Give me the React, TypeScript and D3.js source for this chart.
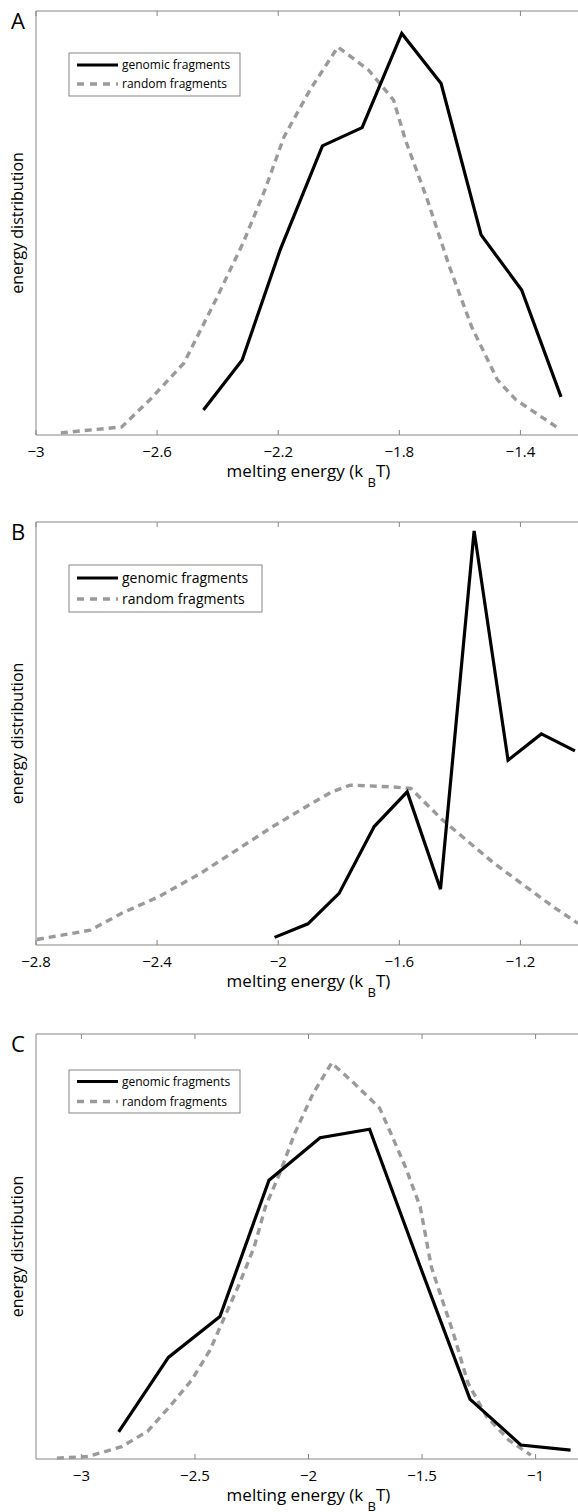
import React from "react";
import * as d3 from "d3";

// panel A
const ticksA = [-3, -2.6, -2.2, -1.8, -1.4];
const genomicXA = [-2.447, -2.319, -2.194, -2.054, -1.923, -1.792, -1.662, -1.53, -1.396, -1.266];
const genomicYA = [0.059, 0.177, 0.436, 0.682, 0.725, 0.947, 0.829, 0.472, 0.342, 0.09];
const randomXA = [-2.918, -2.717, -2.624, -2.511, -2.402, -2.316, -2.244, -2.181, -2.095, -2.003, -1.902, -1.819, -1.78, -1.707, -1.634, -1.561, -1.476, -1.415, -1.281];
const randomYA = [0.005, 0.019, 0.083, 0.17, 0.325, 0.453, 0.578, 0.703, 0.814, 0.915, 0.861, 0.79, 0.696, 0.554, 0.396, 0.255, 0.13, 0.083, 0.019];

// panel B
const ticksB = [-2.8, -2.4, -2, -1.6, -1.2];
const genomicXB = [-2.012, -1.902, -1.799, -1.683, -1.574, -1.464, -1.353, -1.241, -1.131, -1.02];
const genomicYB = [0.018, 0.05, 0.122, 0.28, 0.362, 0.132, 0.979, 0.437, 0.499, 0.459];
const randomXB = [-2.797, -2.621, -2.517, -2.395, -2.255, -2.128, -2.018, -1.908, -1.823, -1.762, -1.629, -1.562, -1.458, -1.287, -1.093, -1.01];
const randomYB = [0.013, 0.035, 0.075, 0.114, 0.17, 0.229, 0.28, 0.327, 0.362, 0.378, 0.374, 0.37, 0.296, 0.193, 0.091, 0.051];

// panel C
const ticksC = [-3, -2.5, -2, -1.5, -1];
const genomicXC = [-2.836, -2.617, -2.39, -2.174, -1.949, -1.731, -1.509, -1.289, -1.065, -0.846];
const genomicYC = [0.064, 0.239, 0.335, 0.656, 0.756, 0.776, 0.454, 0.141, 0.033, 0.021];
const randomXC = [-3.108, -2.969, -2.823, -2.709, -2.612, -2.514, -2.434, -2.369, -2.303, -2.239, -2.19, -2.126, -2.06, -1.979, -1.898, -1.801, -1.687, -1.638, -1.573, -1.508, -1.459, -1.411, -1.362, -1.298, -1.216, -1.119, -1.021];
const randomYC = [0.002, 0.006, 0.029, 0.065, 0.123, 0.186, 0.256, 0.335, 0.414, 0.499, 0.593, 0.673, 0.767, 0.861, 0.932, 0.885, 0.826, 0.767, 0.687, 0.593, 0.452, 0.374, 0.296, 0.179, 0.1, 0.045, 0.009];

const FONT = "'Open Sans', 'Noto Sans', sans-serif";
const FRAME = "#858585";
const GRAY = "#9a9a9a";

type PanelProps = {
    letter: string;
    top: number;
    bottom: number;
    domain: [number, number];
    ticks: number[];
    gx: number[];
    gy: number[];
    rx: number[];
    ry: number[];
    legend: { x: number; y: number; w: number; h: number; row: number; fs: number };
};

const fmt = (d: number) => String(d).replace("-", "\u2212");

function Panel({ letter, top, bottom, domain, ticks, gx, gy, rx, ry, legend }: PanelProps) {
    const left = 36;
    const right = 581;
    const x = d3.scaleLinear().domain(domain).range([left, right]);
    const y = d3.scaleLinear().domain([0, 1]).range([bottom, top]);
    const line = d3.line<[number, number]>()
        .x(d => x(d[0]))
        .y(d => y(d[1]));
    const genomic = gx.map((v, i) => [v, gy[i]] as [number, number]);
    const random = rx.map((v, i) => [v, ry[i]] as [number, number]);
    const r1 = legend.y + legend.row;
    const r2 = legend.y + legend.h - legend.row;

    return (
        <g fontFamily={FONT}>
            <text x={11} y={top + 18} fontSize={22}>{letter}</text>
            {/* frame, right side runs off the picture */}
            <path d={`M${right + 5},${top}H${left}V${bottom}H${right + 5}`} fill="none" stroke={FRAME} strokeWidth={1} />
            {ticks.map(t => (
                <g key={t}>
                    <line x1={x(t)} x2={x(t)} y1={top} y2={top + 5} stroke={FRAME} />
                    <line x1={x(t)} x2={x(t)} y1={bottom} y2={bottom - 5} stroke={FRAME} />
                    <text x={x(t)} y={bottom + 22} fontSize={15} textAnchor="middle">{fmt(t)}</text>
                </g>
            ))}
            <path d={line(random) || ""} fill="none" stroke={GRAY} strokeWidth={3.4} strokeDasharray="7,5" />
            <path d={line(genomic) || ""} fill="none" stroke="#000" strokeWidth={3.2} />
            {/* legend */}
            <rect x={legend.x} y={legend.y} width={legend.w} height={legend.h} fill="#fff" stroke={FRAME} />
            <line x1={77} x2={118} y1={r1} y2={r1} stroke="#000" strokeWidth={3.2} />
            <line x1={77} x2={118} y1={r2} y2={r2} stroke={GRAY} strokeWidth={3.4} strokeDasharray="7,6" />
            <text x={122} y={r1} dy="0.35em" fontSize={legend.fs}>genomic fragments</text>
            <text x={122} y={r2} dy="0.35em" fontSize={legend.fs}>random fragments</text>
            {/* axis titles */}
            <text transform={`translate(23,${(top + bottom) / 2}) rotate(-90)`} fontSize={16} textAnchor="middle">energy distribution</text>
            <text x={(left + right) / 2} y={bottom + 42} fontSize={17} textAnchor="middle">
                melting energy (k <tspan dy={10} fontSize={13}>B</tspan><tspan dy={-10}>T)</tspan>
            </text>
        </g>
    );
}

export default function App() {
    return (
        <div style={{ position: "absolute", left: 0, top: 0 }}>
            <svg width={578} height={1512} style={{ display: "block", background: "#fff" }}>
                <Panel letter="A" top={11} bottom={435} domain={[-3, -1.2]} ticks={ticksA}
                    gx={genomicXA} gy={genomicYA} rx={randomXA} ry={randomYA}
                    legend={{ x: 69, y: 53, w: 171, h: 43, row: 12, fs: 12 }} />
                <Panel letter="B" top={522} bottom={945} domain={[-2.8, -1.0]} ticks={ticksB}
                    gx={genomicXB} gy={genomicYB} rx={randomXB} ry={randomYB}
                    legend={{ x: 69, y: 565, w: 193, h: 47, row: 13, fs: 14 }} />
                <Panel letter="C" top={1034} bottom={1459} domain={[-3.2, -0.8]} ticks={ticksC}
                    gx={genomicXC} gy={genomicYC} rx={randomXC} ry={randomYC}
                    legend={{ x: 69, y: 1070, w: 171, h: 43, row: 11.5, fs: 12 }} />
            </svg>
        </div>
    );
}
